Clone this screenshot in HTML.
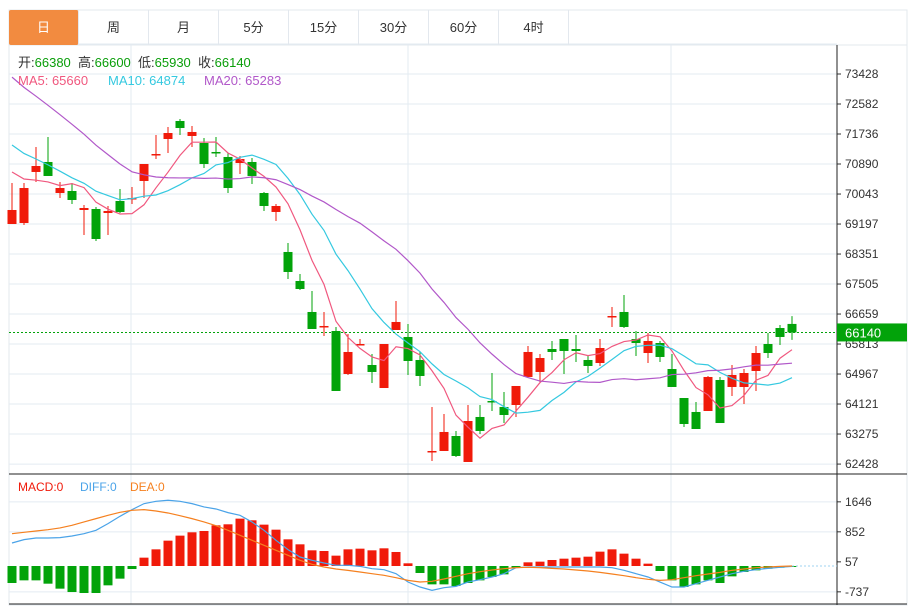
<!DOCTYPE html>
<html><head><meta charset="utf-8"><style>
body{margin:0;background:#fff;font-family:"Liberation Sans","Noto Sans CJK SC",sans-serif;}
#wrap{position:relative;width:915px;height:606px;overflow:hidden;}
.tab{position:absolute;top:10px;height:35px;width:70px;line-height:35px;text-align:center;font-size:13px;color:#333;border-right:1px solid #e3e8ee;box-sizing:border-box;}
</style></head><body>
<div id="wrap">
<svg id="chart" width="915" height="606" style="position:absolute;left:0;top:0"></svg>
<div class="tab" style="left:9px;background:#f28b40;color:#fff;border-radius:2px">日</div>
<div class="tab" style="left:79px">周</div>
<div class="tab" style="left:149px">月</div>
<div class="tab" style="left:219px">5分</div>
<div class="tab" style="left:289px">15分</div>
<div class="tab" style="left:359px">30分</div>
<div class="tab" style="left:429px">60分</div>
<div class="tab" style="left:499px">4时</div>
</div>
<script>
const opens=[69198,69226,70665,70947,70072,70129,69593,69621,69508,69847,69903,70411,71160,71595,72103,71680,71482,71229,71088,70918,70947,70072,69537,68409,67591,66717,66308,66181,64968,65790,65222,64573,66209,66012,65363,62790,62797,63220,62487,63756,64207,64038,64094,64884,65025,65673,65955,65673,65363,65278,66576,66717,65955,65560,65842,65109,64291,63897,63925,64799,64602,64602,65053,65814,66265,66380];
const highs=[70354,70354,71370,71652,70383,70354,69734,69678,69706,70185,70242,70890,71708,71934,72159,71962,71623,71652,71200,71116,71059,70101,69762,68662,67788,67309,66717,66294,66096,65955,65532,65814,67027,66378,65589,64038,63840,63361,64094,64094,64996,64461,64630,65758,65532,65899,65955,66068,65476,65955,66858,67196,66181,66124,65899,65532,64291,64179,64912,64884,65222,65109,65758,66124,66350,66600];
const lows=[69198,69170,70383,70552,69931,69762,68888,68719,68888,69508,69762,69931,71031,71200,71708,71370,70777,71088,70072,70608,70326,69565,69283,67647,67337,66237,66040,64489,64940,65786,64714,64573,66209,64940,64630,62515,62797,62628,62487,63276,63925,63586,63756,64884,64743,65363,64968,65307,64996,65194,66294,66265,65476,65278,65307,64602,63474,63417,63925,63586,64348,64122,64489,65419,65786,65930];
const closes=[69593,70213,70834,70552,70213,69875,69649,68775,69565,69537,69931,70890,71172,71764,71905,71793,70890,71200,70213,71031,70552,69706,69706,67845,67365,66237,66322,64489,65589,65814,65025,65814,66435,65335,64912,62797,63333,62656,63643,63361,64179,63812,64630,65589,65419,65589,65617,65617,65194,65701,66604,66294,65842,65899,65448,64602,63558,63417,64884,63586,64940,64996,65560,65560,66012,66140];
const priorCloses=[76000,75800,75700,75500,75300,75200,75000,74900,74800,74340,72600,72400,72200,72000,71739,71200,71000,70800,70728];
const priceTicks=[73428,72582,71736,70890,70043,69197,68351,67505,66659,65813,64967,64121,63275,62428];
const macdHist=[-450,-380,-380,-468,-600,-689,-715,-715,-512,-335,-80,221,441,671,804,892,927,1077,1104,1254,1210,1095,962,706,574,415,397,274,441,459,415,468,371,71,-185,-486,-486,-530,-450,-380,-291,-221,-44,97,115,159,194,221,247,380,441,327,194,62,-132,-380,-556,-486,-380,-450,-274,-159,-115,-71,-44,-18];
const diffLine=[609,698,742,742,751,795,856,945,1121,1316,1492,1651,1713,1740,1713,1651,1563,1510,1413,1342,1166,945,680,433,238,150,79,18,18,-9,-71,-97,-203,-424,-556,-645,-574,-539,-424,-362,-291,-203,-44,-26,-26,-26,-26,-26,-26,-26,-44,-115,-203,-291,-424,-556,-556,-468,-380,-291,-203,-141,-97,-62,-35,-9];
const deaLine=[856,892,927,962,1007,1077,1166,1254,1342,1422,1475,1492,1457,1404,1333,1254,1166,1068,945,812,680,547,415,283,150,44,-26,-79,-115,-159,-203,-247,-309,-380,-424,-406,-344,-274,-203,-150,-106,-71,-44,-35,-44,-62,-79,-106,-132,-168,-212,-256,-309,-353,-380,-362,-309,-256,-212,-168,-115,-79,-44,-26,-9,0];
const macdTicks=[1646,852,57,-737];

const svg=document.getElementById('chart');
const NS='http://www.w3.org/2000/svg';
function mk(tag,attrs,parent){const e=document.createElementNS(NS,tag);for(const k in attrs)e.setAttribute(k,attrs[k]);(parent||svg).appendChild(e);return e;}
const xOf=i=>12+12*i;
const yP=v=>74+(73428-v)*30/846;
const yM=v=>566-v*90/2383;
const RED='#f01a0a',GREEN='#02a30a';

// frame
let g=mk('rect',{x:9,y:10,width:898,height:595,fill:'none',stroke:'#e3e8ee'});


mk('line',{x1:9,y1:45,x2:907,y2:45,stroke:'#e3e8ee'});
// grid
[131,408,671].forEach(x=>{const l=mk('line',{x1:x,y1:45,x2:x,y2:605,stroke:'#e3ebf2'});});
priceTicks.forEach(v=>{const y=yP(v);
 const l=mk('line',{x1:9,y1:y,x2:837,y2:y,stroke:'#e3ebf2'});
 
 
 mk('line',{x1:837,y1:y,x2:841,y2:y,stroke:'#333'});
 const t=mk('text',{x:845,y:y+4,'font-size':12,fill:'#333'});t.textContent=v;
 
 
});
mk('line',{x1:9,y1:44,x2:837,y2:44,stroke:'#e3ebf2'});
macdTicks.forEach(v=>{const y=yM(v)-2;
 if(v!==57){const l=mk('line',{x1:9,y1:y,x2:837,y2:y,stroke:'#e3ebf2'});}
 mk('line',{x1:837,y1:y,x2:841,y2:y,stroke:'#333'});
 const t=mk('text',{x:845,y:y+4,'font-size':12,fill:'#333'});t.textContent=v;
 
 
});
// axes
mk('line',{x1:837,y1:45,x2:837,y2:605,stroke:'#222'});
mk('line',{x1:9,y1:474,x2:907,y2:474,stroke:'#222'});
mk('line',{x1:9,y1:604,x2:907,y2:604,stroke:'#222'});

// candles
closes.forEach((c,i)=>{const o=opens[i],x=xOf(i);const col=c>=o?RED:GREEN;
 const cg=mk('g',{});
 
 
 mk('line',{x1:x,y1:yP(highs[i]),x2:x,y2:yP(lows[i]),stroke:col,'stroke-width':1},cg);
 const top=yP(Math.max(o,c)),bot=yP(Math.min(o,c));
 mk('rect',{x:x-4.5,y:top,width:9,height:Math.max(1.5,bot-top),fill:col},cg);
});
// MAs
const all=priorCloses.concat(closes);
function ma(n){return closes.map((_,i)=>{const j=i+priorCloses.length;let s=0;for(let k=j-n+1;k<=j;k++)s+=all[k];return s/n;});}
[[5,'#f0587f','ma5-line'],[10,'#35c9e0','ma10-line'],[20,'#b158c9','ma20-line']].forEach(([n,col,name])=>{
 const m=ma(n);const p=mk('polyline',{points:m.map((v,i)=>xOf(i)+','+yP(v)).join(' '),fill:'none',stroke:col,'stroke-width':1.2});
 
 
});
// last price line
const lp=closes[closes.length-1];
const ly=yP(lp);
let dl=mk('line',{x1:9,y1:ly,x2:837,y2:ly,stroke:GREEN,'stroke-dasharray':'2,2'});


let lb=mk('rect',{x:837,y:ly-9,width:70,height:18,fill:GREEN});


let lt=mk('text',{x:845,y:ly+5,'font-size':13,fill:'#fff'});lt.textContent=lp;

// MACD hist
macdHist.forEach((v,i)=>{const x=xOf(i);const y0=yM(0),y1=yM(v);
 const r=mk('rect',{x:x-4.5,y:Math.min(y0,y1),width:9,height:Math.max(1,Math.abs(y1-y0)),fill:v>=0?RED:GREEN});
 
 
});
let zl=mk('line',{x1:xOf(65),y1:yM(0),x2:837,y2:yM(0),stroke:'#9fd3f0','stroke-dasharray':'2,2'});
[[diffLine,'#4aa3e8','diff-line'],[deaLine,'#f5801f','dea-line']].forEach(([arr,col,name])=>{
 const p=mk('polyline',{points:arr.map((v,i)=>xOf(i)+','+yM(v)).join(' '),fill:'none',stroke:col,'stroke-width':1.2});
 
 
});

// legends
function txt(x,y,s,col,name){const t=mk('text',{x:x,y:y,'font-size':13,fill:col});t.textContent=s;return t;}
const info=mk('text',{x:18,y:67,'font-size':13,fill:'#333'});


[['开:','#333'],['66380','#0a9e0a'],['  高:','#333'],['66600','#0a9e0a'],['  低:','#333'],['65930','#0a9e0a'],['  收:','#333'],['66140','#0a9e0a']].forEach(([s,c])=>{const ts=mk('tspan',{fill:c},info);ts.setAttribute('xml:space','preserve');ts.textContent=s;});
info.setAttribute('style','white-space:pre');
txt(18,85,'MA5: 65660','#f0587f','ma5-legend');
txt(108,85,'MA10: 64874','#35c9e0','ma10-legend');
txt(204,85,'MA20: 65283','#b158c9','ma20-legend');
txt(18,491,'MACD:0','#f01a0a','macd-legend').setAttribute('font-size',12);
txt(80,491,'DIFF:0','#4aa3e8','diff-legend').setAttribute('font-size',12);
txt(130,491,'DEA:0','#f5801f','dea-legend').setAttribute('font-size',12);
</script>
</body></html>
